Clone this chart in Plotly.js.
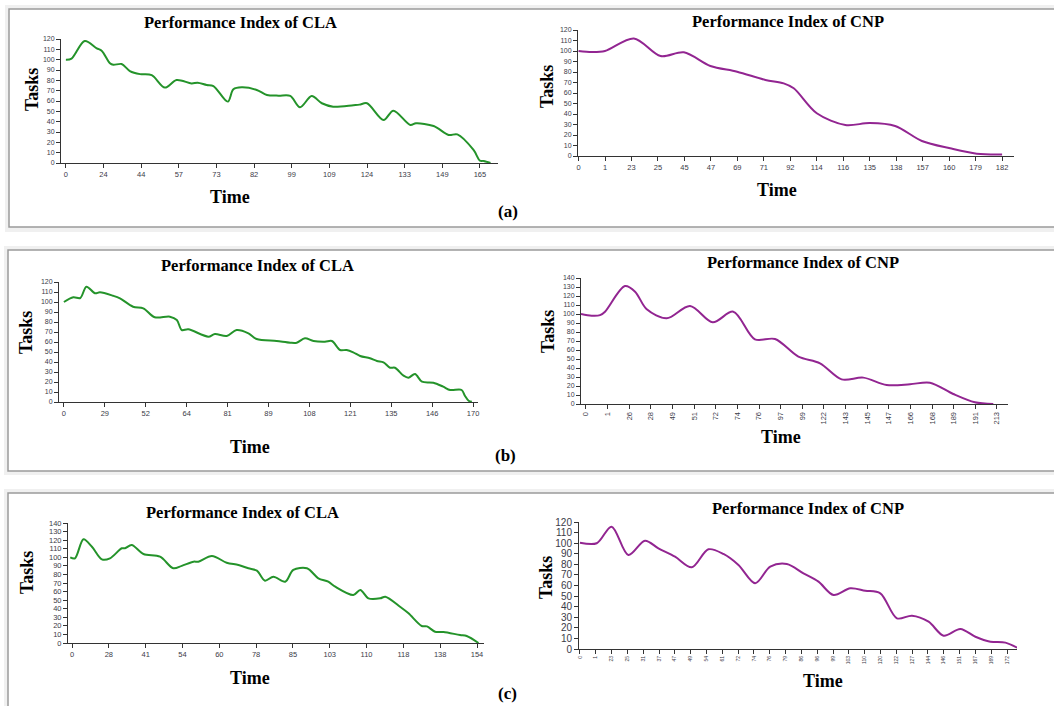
<!DOCTYPE html>
<html>
<head>
<meta charset="utf-8">
<script src="https://cdn.plot.ly/plotly-3.0.1.min.js"></script>
<style>html,body{margin:0;padding:0;background:#fff;}#chart{width:1054px;height:706px;}</style>
</head>
<body>
<div id="chart"></div>
<script>
// ---------- DATA ----------
// (a) CLA
const claA_ticks = ['0','24','44','57','73','82','99','109','124','133','149','165'];
const claA_t = [0,0.15,0.5,0.82,0.95,1.17,1.26,1.48,1.7,1.97,2.28,2.63,2.94,3.34,3.5,3.74,3.92,4.3,4.45,4.67,5.07,5.34,5.65,5.96,6.22,6.53,6.8,7.1,7.64,7.8,8.0,8.44,8.7,9.15,9.3,9.77,10.17,10.4,10.83,11.0,11.1,11.28];
const claA_v = [100,101,118,111,108.7,96.5,95,95.8,89,86,85,73,80.3,77,77.7,75.5,74.5,59.4,71.3,73.2,70.7,65.8,65.2,65,53.9,64.8,57.8,54.5,56,56.5,57.8,41.6,50.6,36.8,38.4,35.8,27.1,27.7,12.6,2.3,2,0];
// (a) CNP
const cnpA_ticks = ['0','1','23','25','45','47','69','71','92','114','116','135','138','157','160','179','182'];
const cnpA_t = [0,0.5,1.0,2.09,3.1,3.98,4.98,5.99,7.06,7.75,8.13,9.0,10.08,11.0,11.96,12.97,14.04,15.04,16];
const cnpA_v = [100,99,100,112,95.2,98.7,85.7,80.3,72.4,69.2,64.5,40.7,29.5,31.4,28.6,14.3,7.3,2.2,1.5];
// (b) CLA
const claB_ticks = ['0','29','52','64','81','89','108','121','135','146','170'];
const claB_t = [0,0.23,0.4,0.55,0.76,0.88,1.2,1.37,1.69,1.94,2.22,2.59,2.76,2.88,3.04,3.53,3.69,3.98,4.22,4.51,4.71,5.2,5.53,5.69,5.89,6.1,6.38,6.55,6.75,6.91,7.07,7.24,7.48,7.65,7.81,7.97,8.09,8.3,8.42,8.58,8.75,9.03,9.27,9.44,9.72,9.8,9.89,9.97];
const claB_v = [100,104.7,104,115.3,108.7,109.7,106.3,103.7,95.3,93.7,84.7,85.3,82,72,72.7,65.3,68,66,72,68.7,63,61,59.3,59.3,63.7,61,60.3,61,52,52,49.7,46,43.7,41,39.7,34.3,34.3,26.3,24.3,28,20.3,19.3,15.3,12,12,6.3,1.3,0.3];
// (b) CNP
const cnpB_ticks = ['0','1','26','28','49','51','72','74','76','97','99','122','143','145','147','166','168','189','191','213'];
const cnpB_t = [-0.23,0.26,0.65,0.88,1.8,2.27,2.81,3.73,4.81,5.86,6.81,7.81,8.74,9.82,10.82,11.82,12.82,13.9,14.98,15.9,16.98,17.98,18.83];
const cnpB_v = [100,98.1,98.7,102.6,131.1,124.8,105.2,95.2,108.9,90.8,102.6,71.9,72.2,52.6,45.2,27.4,29.3,21.1,21.9,23.7,11.1,1.9,0];
// (c) CLA
const claC_ticks = ['0','28','41','54','60','78','85','103','110','118','138','154'];
const claC_t = [-0.05,0.08,0.31,0.54,0.81,1.03,1.35,1.44,1.62,1.94,2.39,2.75,2.98,3.3,3.43,3.8,4.2,4.52,4.79,5.02,5.24,5.47,5.79,6.01,6.38,6.69,6.96,7.15,7.64,7.83,8.05,8.37,8.51,8.91,9.14,9.5,9.64,9.86,10.09,10.54,10.72,11.04];
const claC_v = [100,98.8,121,112.3,97.6,98.8,110.5,110.5,114.3,103.8,100.7,87.2,90,94.9,94.9,101.5,93.7,91,87.2,84.4,72.7,77.4,71.5,85.2,87.2,75.5,71.5,65.7,56,61.8,52.1,52.1,54,42.3,34.6,19.8,19.4,13.2,12.8,9.3,8.2,0];
// (c) CNP
const cnpC_ticks = ['0','1','23','25','31','37','47','49','54','61','72','74','76','79','86','96','99','103','110','120','122','127','144','146','151','167','169','172'];
const cnpC_t = [0,1.06,2.0,3.06,4.11,4.96,6.01,7.07,8.12,9.07,10.02,11.08,12.03,13.08,14.13,15.08,16.03,17.09,18.04,18.99,20.04,20.99,22.04,22.99,24.05,25.0,25.95,26.9,27.64];
const cnpC_v = [100.4,99.9,115.6,88.8,102.3,95.1,87.2,77.2,94.2,89.8,79.4,62.1,77.8,80.3,71.5,63.6,51,57.4,55.1,52.6,29,31.5,25.8,12.6,18.9,11.6,6.9,6,1.2];

// ---------- LAYOUT ----------
const W = 1054, H = 706;
const fx = p => p / W;
const fy = p => 1 - p / H;
const GREEN = '#24932a', PURPLE = '#922591';
const TICKC = '#3b3b48';
const SERIF = 'Liberation Serif, Times New Roman, serif';
const SANS = 'Liberation Sans, Arial, sans-serif';

const panels = [
  {t: claA_t, v: claA_v, ticks: claA_ticks, color: GREEN, x0: 61, x1: 498, yTop: 39, yBot: 163, xr: [-0.13, 11.48], yr: [0, 120], ang: 0, xfs: 7.5, yfs: 7},
  {t: cnpA_t, v: cnpA_v, ticks: cnpA_ticks, color: PURPLE, x0: 578, x1: 1014, yTop: 30, yBot: 156, xr: [-0.02, 16.45], yr: [0, 120], ang: 0, xfs: 7.5, yfs: 7},
  {t: claB_t, v: claB_v, ticks: claB_ticks, color: GREEN, x0: 59, x1: 478, yTop: 282, yBot: 402, xr: [-0.12, 10.12], yr: [0, 120], ang: 0, xfs: 7.5, yfs: 7},
  {t: cnpB_t, v: cnpB_v, ticks: cnpB_ticks, color: PURPLE, x0: 581, x1: 1008, yTop: 278, yBot: 404, xr: [-0.23, 19.51], yr: [0, 140], ang: -90, xfs: 7.5, yfs: 7},
  {t: claC_t, v: claC_v, ticks: claC_ticks, color: GREEN, x0: 68, x1: 484, yTop: 523, yBot: 643, xr: [-0.11, 11.19], yr: [0, 140], ang: 0, xfs: 7.5, yfs: 7.5},
  {t: cnpC_t, v: cnpC_v, ticks: cnpC_ticks, color: PURPLE, x0: 579, x1: 1017, yTop: 522, yBot: 649, xr: [-0.06, 27.63], yr: [0, 120], ang: -90, xfs: 5, yfs: 10}
];

const traces = [];
const layout = {
  width: W, height: H,
  margin: {l: 0, r: 0, t: 0, b: 0},
  paper_bgcolor: '#ffffff',
  plot_bgcolor: 'rgba(0,0,0,0)',
  showlegend: false,
  shapes: [],
  annotations: []
};

panels.forEach((p, i) => {
  const n = i + 1;
  const xa = 'xaxis' + (n === 1 ? '' : n), ya = 'yaxis' + (n === 1 ? '' : n);
  const xid = 'x' + (n === 1 ? '' : n), yid = 'y' + (n === 1 ? '' : n);
  traces.push({
    type: 'scatter', mode: 'lines', x: p.t, y: p.v, xaxis: xid, yaxis: yid,
    line: {color: p.color, width: 2, shape: 'spline', smoothing: 0.9},
    hoverinfo: 'skip'
  });
  layout[xa] = {
    domain: [fx(p.x0), fx(p.x1)], anchor: yid, range: p.xr,
    tickmode: 'array', tickvals: p.ticks.map((_, k) => k), ticktext: p.ticks,
    tickangle: p.ang, showgrid: false, zeroline: false,
    showline: true, linecolor: '#333', linewidth: 1,
    ticks: 'outside', ticklen: 4, tickcolor: '#333', tickwidth: 1,
    tickfont: {family: SANS, size: p.xfs, color: TICKC}, fixedrange: true
  };
  layout[ya] = {
    domain: [fy(p.yBot), fy(p.yTop)], anchor: xid, range: p.yr, dtick: 10,
    showgrid: false, zeroline: false,
    showline: true, linecolor: '#333', linewidth: 1,
    ticks: 'outside', ticklen: 4, tickcolor: '#333', tickwidth: 1,
    tickfont: {family: SANS, size: p.yfs, color: TICKC}, fixedrange: true
  };
});

// panel frames
const frames = [[5, 232, 9, 227], [4, 475, 8, 471], [4, 720, 8, 716]];
const frameTops = [5, 246, 489];
const innerTops = [9, 250, 493];
frames.forEach((f, k) => {
  layout.shapes.push({type: 'rect', xref: 'paper', yref: 'paper', layer: 'below',
    x0: fx(f[0]), x1: fx(1070), y0: fy(f[1]), y1: fy(frameTops[k]),
    fillcolor: '#f0f0f0', line: {width: 0}});
  layout.shapes.push({type: 'rect', xref: 'paper', yref: 'paper', layer: 'below',
    x0: fx(f[2]), x1: fx(1070), y0: fy(f[3]), y1: fy(innerTops[k]),
    fillcolor: '#ffffff', line: {color: '#9a9a9a', width: 1.5}});
});

// text
function txt(s, x, y, size, angle) {
  layout.annotations.push({text: s, xref: 'paper', yref: 'paper', x: fx(x), y: fy(y),
    xanchor: 'center', yanchor: 'middle', showarrow: false, textangle: angle || 0,
    font: {family: SERIF, size: size, color: '#000', weight: 'bold'}});
}
const titles = [
  ['<b>Performance Index of CLA</b>', 240, 23], ['<b>Performance Index of CNP</b>', 788, 22],
  ['<b>Performance Index of CLA</b>', 257, 265], ['<b>Performance Index of CNP</b>', 803, 262],
  ['<b>Performance Index of CLA</b>', 242, 512], ['<b>Performance Index of CNP</b>', 808, 508]
];
titles.forEach(t => txt(t[0], t[1], t[2], 16.5));
[[230, 197], [777, 190], [250, 447], [781, 437], [250, 678], [823, 681]].forEach(p => txt('<b>Time</b>', p[0], p[1], 18));
[[32, 90], [547, 87], [26, 333], [548, 332], [27, 573], [546, 578]].forEach(p => txt('<b>Tasks</b>', p[0], p[1], 18, -90));
txt('<b>(a)</b>', 508, 211, 17);
txt('<b>(b)</b>', 505, 455, 17);
txt('<b>(c)</b>', 507, 693, 17);

Plotly.newPlot('chart', traces, layout, {staticPlot: true, displayModeBar: false});
</script>
</body>
</html>
